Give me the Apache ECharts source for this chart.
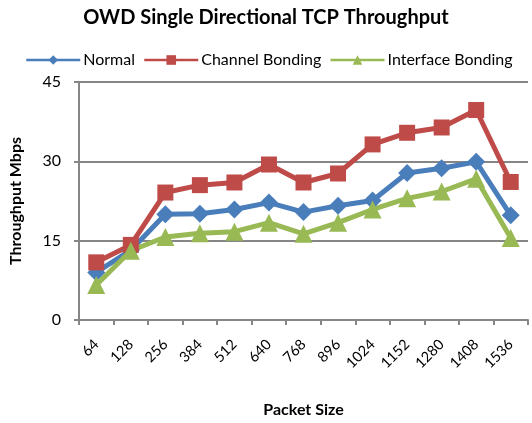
<!DOCTYPE html>
<html><head><meta charset="utf-8">
<script src="https://cdn.jsdelivr.net/npm/echarts@6/dist/echarts.min.js"></script>
<style>html,body{margin:0;padding:0;background:#fff}#c{width:532px;height:423px}</style>
</head><body><div id="c"></div>
<script>
const categories = ['64','128','256','384','512','640','768','896','1024','1152','1280','1408','1536'];
const normal = [9.0, 13.2, 20.0, 20.1, 20.9, 22.2, 20.4, 21.6, 22.6, 27.8, 28.7, 29.9, 19.8];
const channelBonding = [10.9, 14.2, 24.1, 25.5, 26.0, 29.4, 26.0, 27.7, 33.2, 35.4, 36.4, 39.7, 26.1];
const interfaceBonding = [6.6, 13.1, 15.7, 16.4, 16.7, 18.4, 16.3, 18.4, 20.9, 23.0, 24.3, 26.7, 15.5];
const yTicks = [0, 15, 30, 45];

const font = 'Lato, "Open Sans", sans-serif';
const chart = echarts.init(document.getElementById('c'));
function ser(name, data, color, symbol, size) {
  return {name, type:'line', data, symbol, symbolSize:size,
    lineStyle:{color, width:5}, itemStyle:{color}, z: 2};
}
chart.setOption({
  animation:false,
  textStyle:{fontFamily:font},
  title:{text:'OWD Single Directional TCP Throughput', left:'center', top:3,
    textStyle:{fontSize:20, fontWeight:'bold', color:'#000', fontFamily:font}},
  legend:{top:47, left:20, width:530, padding:[5,0,5,5], itemGap:8, itemWidth:54, itemHeight:12,
    lineStyle:{width:2.5},
    textStyle:{fontSize:16, color:'#000', fontFamily:font, padding:[0,0,0,-2]},
    data:['Normal','Channel Bonding','Interface Bonding']},
  grid:{left:78, right:4, top:82, bottom:102},
  xAxis:{type:'category', data:categories, boundaryGap:true,
    name:'Packet Size', nameLocation:'middle', nameGap:82,
    nameTextStyle:{fontSize:16, fontWeight:'bold', color:'#000', fontFamily:font},
    axisLine:{lineStyle:{color:'#868686', width:2}},
    axisTick:{show:true, alignWithLabel:false, length:5, lineStyle:{color:'#868686', width:2}},
    axisLabel:{rotate:45, fontSize:14.5, color:'#000', margin:22, fontFamily:font}},
  yAxis:{type:'value', min:0, max:45, interval:15,
    name:'Throughput Mbps', nameLocation:'middle', nameGap:55, nameRotate:90,
    nameTextStyle:{fontSize:16, fontWeight:'bold', color:'#000', fontFamily:font},
    axisLine:{show:true, lineStyle:{color:'#868686', width:2}},
    axisTick:{show:true, length:5, lineStyle:{color:'#868686', width:2}},
    splitLine:{show:true, lineStyle:{color:'#868686', width:2}},
    axisLabel:{fontSize:16, color:'#000', margin:18, fontFamily:font,
      formatter: v => yTicks.includes(v) ? String(v) : ''}},
  series:[
    ser('Normal', normal, '#4a7ebb', 'diamond', 18),
    ser('Channel Bonding', channelBonding, '#be4b48', 'rect', 16),
    ser('Interface Bonding', interfaceBonding, '#98b954', 'triangle', 18)
  ]
});
</script></body></html>
